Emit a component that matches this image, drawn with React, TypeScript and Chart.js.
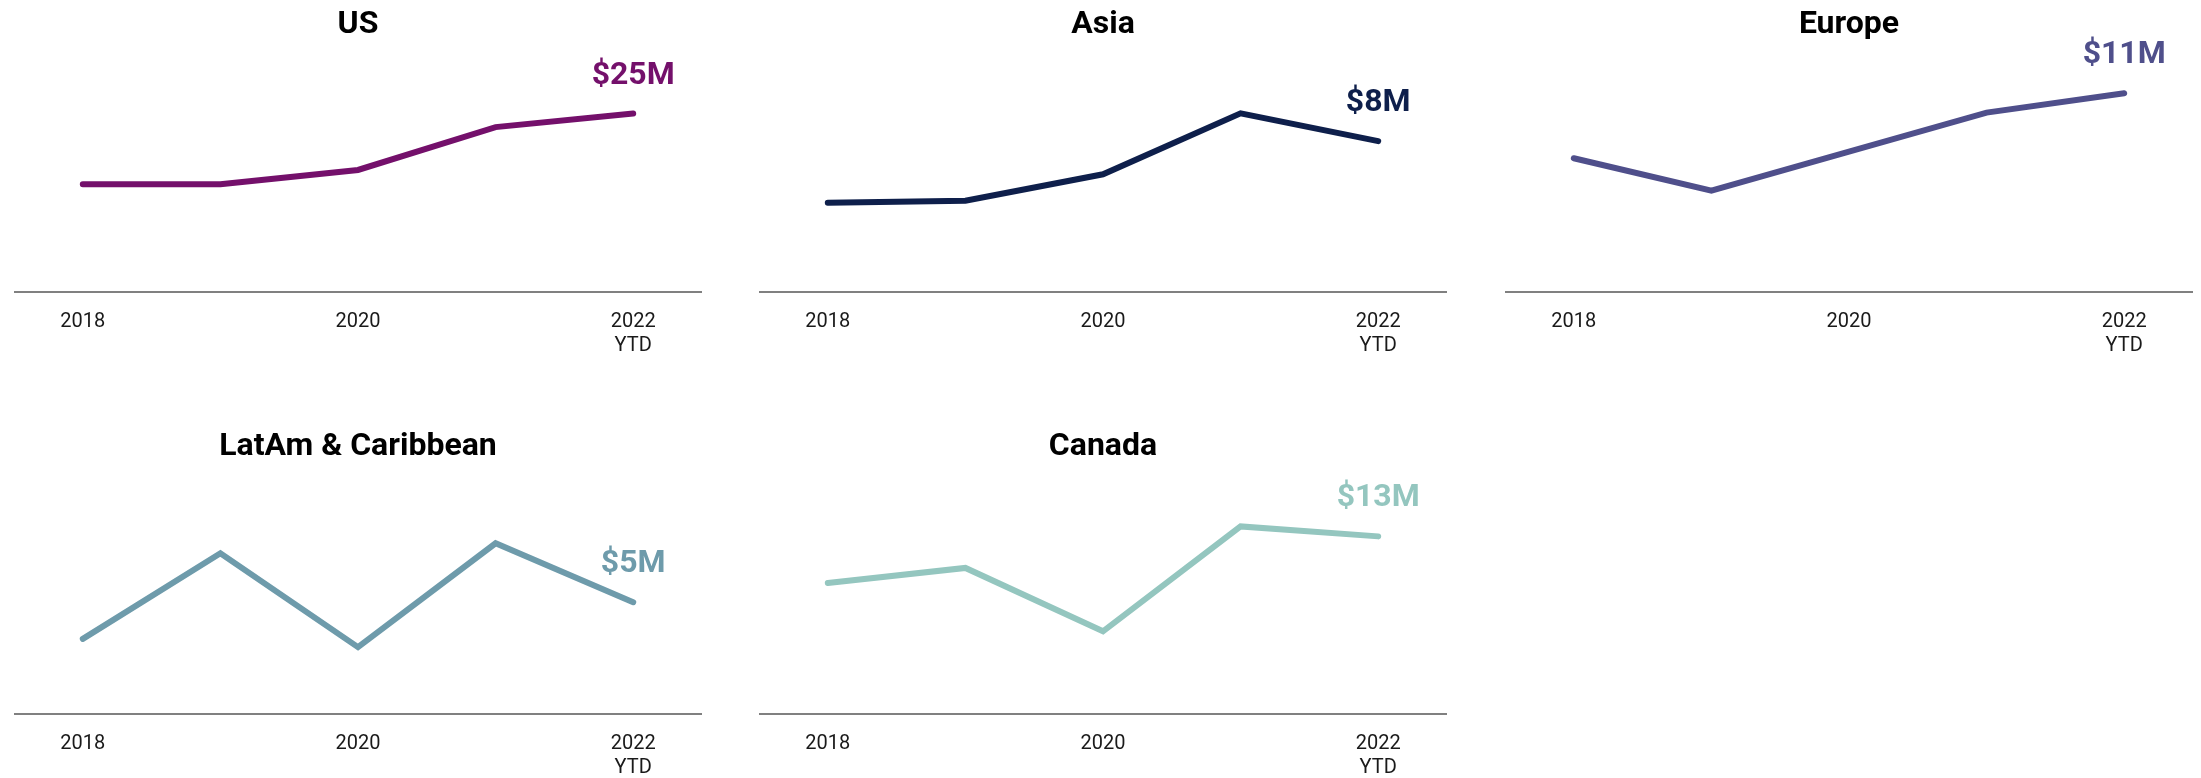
import React, { useEffect, useRef } from "react";
import { Chart, registerables } from "chart.js";

Chart.register(...registerables);

// ---- Data ----
const categories = ["2018", "2019", "2020", "2021", "2022 YTD"];
const shownTicks = [true, false, true, false, true];

const regions = ["US", "Asia", "Europe", "LatAm & Caribbean", "Canada"];
const usValues = [15.1, 15.1, 17.1, 23.1, 25];
const asiaValues = [4.73, 4.84, 6.24, 9.47, 8];
const europeValues = [7.4, 5.61, 7.77, 9.93, 11];
const latamValues = [3.36, 7.19, 2.99, 7.64, 5];
const canadaValues = [9.59, 10.69, 6.05, 13.73, 13];
const endLabels = ["$25M", "$8M", "$11M", "$5M", "$13M"];

// ---- Styles / layout ----
const colors = ["#74106B", "#0E1F4B", "#4F4F8B", "#6E9BAB", "#94C6BF"];
const yMaxes = [32.5, 12.3, 12.84, 10.38, 16.98];
const panelLefts = [14, 759, 1505, 14, 759];
const panelTops = [0, 0, 0, 422, 422];
const PANEL_W = 688;
const PANEL_H = 370;
const X_AXIS_H = 78;

const seriesList = [usValues, asiaValues, europeValues, latamValues, canadaValues];

const endLabelPlugin = {
  id: "endLabel",
  afterDatasetsDraw(chart: any, _args: any, opts: any) {
    const meta = chart.getDatasetMeta(0);
    const pts = meta.data;
    if (!pts || !pts.length) return;
    const last = pts[pts.length - 1];
    const ctx = chart.ctx;
    ctx.save();
    ctx.font = "bold 32px Roboto";
    ctx.fillStyle = opts.color;
    ctx.textAlign = "center";
    ctx.textBaseline = "middle";
    ctx.fillText(opts.text, last.x, last.y - 38);
    ctx.restore();
  },
};

function Panel({ idx }: { idx: number }) {
  const ref = useRef<HTMLCanvasElement | null>(null);
  useEffect(() => {
    if (!ref.current) return;
    const chart = new Chart(ref.current, {
      type: "line",
      data: {
        labels: categories,
        datasets: [
          {
            data: seriesList[idx],
            borderColor: colors[idx],
            backgroundColor: colors[idx],
            borderWidth: 6,
            pointRadius: 0,
            tension: 0,
            borderCapStyle: "round",
            borderJoinStyle: "miter",
            clip: false,
          } as any,
        ],
      },
      options: {
        animation: false,
        responsive: false,
        devicePixelRatio: 1,
        layout: { padding: 0 },
        plugins: {
          legend: { display: false },
          tooltip: { enabled: false },
          title: {
            display: true,
            text: regions[idx],
            color: "#000000",
            font: { family: "Roboto", size: 32, weight: "bold", lineHeight: 1.2 },
            padding: { top: 6, bottom: 15.6 },
          },
          endLabel: { text: endLabels[idx], color: colors[idx] },
        } as any,
        scales: {
          x: {
            offset: true,
            grid: { display: false, drawTicks: false },
            border: { display: true, color: "#808080", width: 2 },
            afterFit: (scale: any) => {
              scale.height = X_AXIS_H;
            },
            ticks: {
              autoSkip: false,
              maxRotation: 0,
              minRotation: 0,
              padding: 18,
              color: "#1a1a1a",
              font: { family: "Roboto", size: 20, lineHeight: 1.2 },
              callback: (_v: any, i: number) =>
                shownTicks[i] ? categories[i].split(" ") : "",
            },
          },
          y: {
            display: false,
            min: 0,
            max: yMaxes[idx],
          },
        },
      },
      plugins: [endLabelPlugin],
    });
    return () => chart.destroy();
  }, [idx]);
  return (
    <div
      style={{
        position: "absolute",
        left: panelLefts[idx],
        top: panelTops[idx],
        width: PANEL_W,
        height: PANEL_H,
      }}
    >
      <canvas ref={ref} width={PANEL_W} height={PANEL_H} style={{ display: "block" }} />
    </div>
  );
}

export default function App() {
  return (
    <div
      style={{
        position: "fixed",
        left: 0,
        top: 0,
        width: 2201,
        height: 778,
        background: "#ffffff",
        overflow: "hidden",
      }}
    >
      {regions.map((_r, i) => (
        <Panel key={i} idx={i} />
      ))}
    </div>
  );
}
